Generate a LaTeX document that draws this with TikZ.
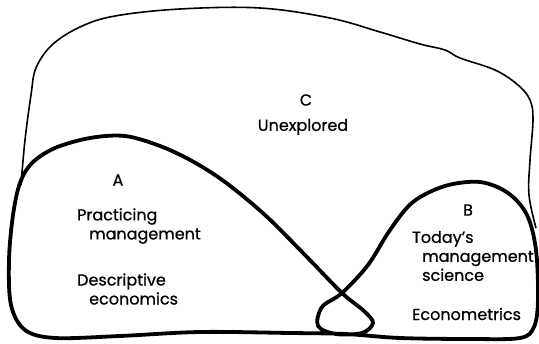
\documentclass[tikz,border=0pt]{standalone}
\usepackage{fontspec}
\setmainfont{Poppins}[RawFeature={embolden=0.7}]
\usetikzlibrary{positioning}

\begin{document}
\begin{tikzpicture}[
  x=1pt, y=-1pt,
  font=\fontsize{16}{19}\selectfont,
  thinline/.style={line width=1.6pt, line join=round},
  thickline/.style={line width=3.8pt, line join=round},
  lbl/.style={align=left, inner sep=0pt}
]
\useasboundingbox (0,0) rectangle (539,344);
% unexplored region C
\draw[thinline] plot[smooth, tension=0.6] coordinates {
  (21,185) (25,140) (31,95) (36,68) (52,45) (80,27) (115,16) (180,9)
  (260,8) (330,18) (380,32) (420,44) (445,50) (460,58) (495,70)
  (518,85) (530,100) (533,120) (530,160) (529,195) (536,228)};
% regions A and B, one closed line with a loop
\draw[thickline] plot[smooth cycle, tension=0.55] coordinates {
  (20,183) (32,163) (55,148) (90,138) (125,136) (160,146) (192,161)
  (225,182) (265,215) (305,255) (342,293) (364,311) (373,323)
  (362,333) (336,334) (318,326) (322,307) (342,293) (368,265)
  (390,230) (413,202) (445,186) (480,182) (508,193) (527,215)
  (536,250) (538,300) (534,327) (520,338) (470,339) (400,338)
  (345,334) (290,333) (200,332) (120,336) (55,338) (25,330)
  (11,305) (9,260) (13,215)};
% labels
\node (c) at (306,100) {C};
\node (unexpl) at (303,127) {Unexplored};
\node (a) at (118,180) {A};
\node[lbl, anchor=west] (pract) at (77,226) {Practicing\\\hspace*{12pt}management};
\node[lbl, anchor=west] (descr) at (77,289) {Descriptive\\\hspace*{12pt}economics};
\node (b) at (468,210) {B};
\node[lbl, anchor=west] (today) at (412,256) {Today's\\\hspace*{10pt}management\\\hspace*{10pt}science};
\node[lbl, anchor=west] (econ) at (412,314) {Econometrics};
\end{tikzpicture}
\end{document}
